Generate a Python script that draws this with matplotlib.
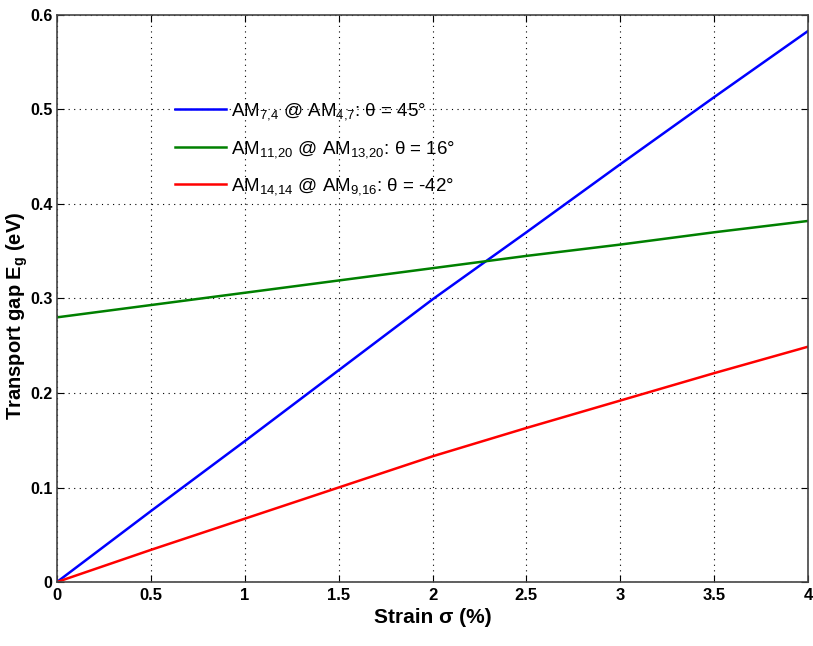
import numpy as np
import matplotlib
matplotlib.use("Agg")
import matplotlib.pyplot as plt

# ==========================================================
# DATOS
# ==========================================================

strain = [0, 0.5, 1, 1.5, 2, 2.5, 3, 3.5, 4]

gap_blue = [0, 0.075, 0.149, 0.224, 0.299, 0.370, 0.442, 0.513, 0.583]
gap_green = [0.280, 0.293, 0.306, 0.319, 0.332, 0.345, 0.357, 0.370, 0.382]
gap_red = [0, 0.034, 0.067, 0.100, 0.133, 0.163, 0.192, 0.221, 0.249]

labels = [
    r"AM$_{7{,}4}$ @ AM$_{4{,}7}$: θ = 45°",
    r"AM$_{11{,}20}$ @ AM$_{13{,}20}$: θ = 16°",
    r"AM$_{14{,}14}$ @ AM$_{9{,}16}$: θ = -42°",
]

xticks = [0, 0.5, 1, 1.5, 2, 2.5, 3, 3.5, 4]
yticks = [0, 0.1, 0.2, 0.3, 0.4, 0.5, 0.6]

# ==========================================================
# FIGURA
# ==========================================================

plt.rcParams["font.family"] = ["Liberation Sans", "DejaVu Sans"]
plt.rcParams["mathtext.fontset"] = "custom"
plt.rcParams["mathtext.rm"] = "Liberation Sans"
plt.rcParams["mathtext.bf"] = "Liberation Sans:bold"
plt.rcParams["mathtext.default"] = "regular"

fig = plt.figure(figsize=(8.13, 6.46), dpi=100)
ax = fig.add_axes([0.070, 0.099, 0.924, 0.878])

ax.plot(strain, gap_blue, color="#0000ff", lw=1.8, label=labels[0])
ax.plot(strain, gap_green, color="#008000", lw=1.8, label=labels[1])
ax.plot(strain, gap_red, color="#ff0000", lw=1.8, label=labels[2])

ax.set_xlim(0, 4)
ax.set_ylim(0, 0.6)
ax.set_xticks(xticks)
ax.set_yticks(yticks)
ax.set_xticklabels([f"{v:g}" for v in xticks])
ax.set_yticklabels([f"{v:g}" for v in yticks])

ax.grid(True, color="black", linestyle=(0, (1, 4)), linewidth=0.8)
ax.tick_params(direction="in", top=True, right=True, length=5, labelsize=12, pad=4)
ax.tick_params(axis="y", labelsize=11.5, pad=3)
for t in ax.get_xticklabels() + ax.get_yticklabels():
    t.set_fontweight("bold")
for s in ax.spines.values():
    s.set_linewidth(1.2)
    s.set_color("#444444")

ax.set_xlabel("Strain σ (%)", fontsize=15, fontweight="bold", labelpad=4)
ax.set_ylabel(r"Transport gap E$_\mathbf{g}$ (eV)", fontsize=14.5, fontweight="bold")
ax.yaxis.set_label_coords(-0.036, 0.47)

leg = ax.legend(loc="upper left", bbox_to_anchor=(0.135, 0.878), frameon=False,
                handlelength=2.7, handletextpad=0.25, labelspacing=0.9,
                prop={"size": 13.5})

plt.savefig("out.png", dpi=100)
